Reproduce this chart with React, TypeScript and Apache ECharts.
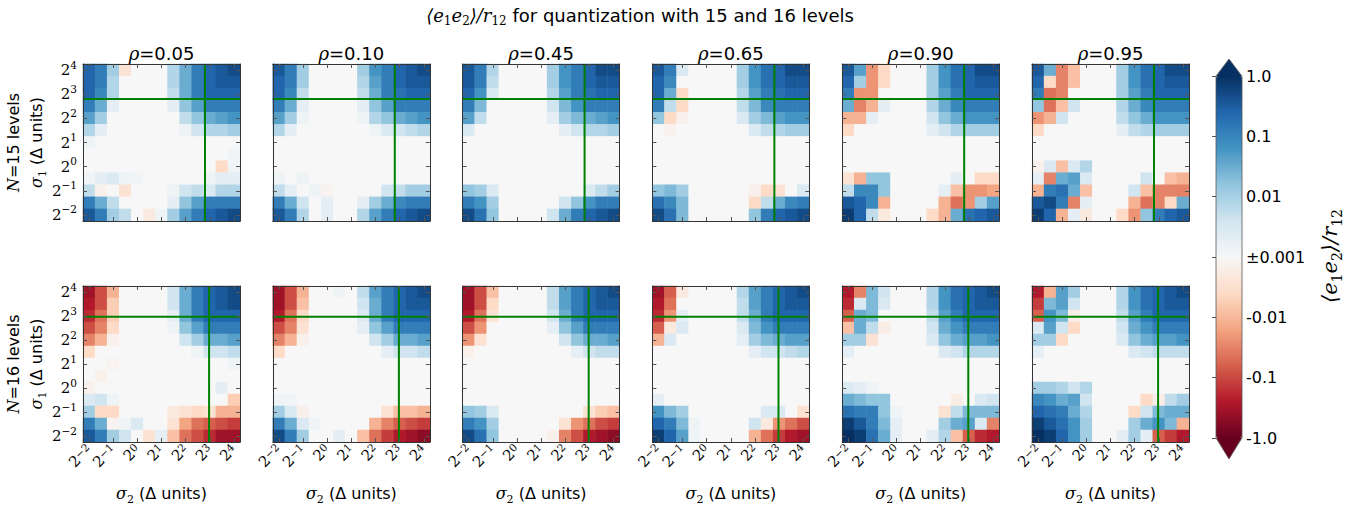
import { useEffect, useRef } from 'react';
import * as echarts from 'echarts';

// log2(sigma) categories, from 2^-2 to 2^4 in half steps
const EXPONENTS = ['-2', '-1.5', '-1', '-0.5', '0', '0.5', '1', '1.5', '2', '2.5', '3', '3.5', '4'];
const RHO_LABELS = ['0.05', '0.10', '0.45', '0.65', '0.90', '0.95'];
const LEVEL_COUNTS = [15, 16];
// position of the green guide lines, in log2(sigma) units (N=15, N=16)
const GREEN_LOG2 = [2.8, 2.97];
const CB_TICK_LABELS = ['-1.0', '-0.1', '-0.01', '\u00b10.001', '0.01', '0.1', '1.0'];
const RDBU = ['#67001f', '#b2182b', '#d6604d', '#f4a582', '#fddbc7', '#f7f7f7', '#d1e5f0', '#92c5de', '#4393c3', '#2166ac', '#053061'];

// Colour level of <e1e2>/r12 on the symmetric-log colour bar:
// +10 = 1.0, +6.67 = 0.1, +3.33 = 0.01, 0 = ±0.001, negative values mirror.
// Rows run from sigma1 = 2^4 (top) down to 2^-2 (bottom); columns sigma2 = 2^-2 .. 2^4.
const N15_RHO005 = [
  [8, 7, 3.5, -1.5, 0, 0, 0, 3, 5, 7, 8, 8.5, 9],
  [8, 7, 3, 0, 0, 0, 0, 3, 5, 7, 8, 8.5, 8.5],
  [8, 6.5, 3, 0, 0, 0, 0, 2.5, 5, 7, 8, 8, 8],
  [7, 5, 1, 0, 0, 0, 0, 1, 4, 5.5, 7, 7, 7],
  [5.5, 3.5, 0, 0, 0, 0, 0, 0, 2.5, 4, 5, 5.5, 6],
  [3, 1, 0, 0, 0, 0, 0, 0, 0.5, 2, 3, 3, 3.5],
  [0.5, 0, 0, 0, 0, 0, 0, 0, 0, 0, 0, 0, 0],
  [0, 0, 0, 0, 0, 0, 0, 0, 0, 0, 0, 0, 0.3],
  [0, 0, 0, 0, 0, 0, 0, 0, 0, 0, 0, -2, 0.3],
  [0.3, 1, 1.5, 0.5, 0.3, 0, 0, 0, 0, 0, 0.5, 1, 1],
  [2.5, -0.5, 0, -1.5, 0, 0, 0, 0.5, 2, 2.5, 1.5, 3, 3],
  [7, 5, 2.5, 0, 0, 0, 0, 1, 4, 5.5, 7, 7, 7],
  [8.5, 7, 3.5, 2.5, 0, -1, 0.5, 3.5, 5.5, 7, 8, 8.5, 9],
];
const N15_RHO010 = [
  [8.5, 7, 3.5, 0, 0, 0, 0, 3.5, 6, 7, 8, 8.5, 9],
  [8, 7, 3.5, 0, 0, 0, 0, 3, 5.5, 7, 8, 8.5, 8.5],
  [8, 6.5, 2.5, 0, 0, 0, 0, 2.5, 5, 7, 7.5, 8, 8],
  [7, 5, 1, 0, 0, 0, 0, 1, 4, 5.5, 7, 7, 7],
  [5.5, 3.5, 0.5, 0, 0, 0, 0, 0.5, 3, 4, 5, 5.5, 6],
  [3, 1, 0, 0, 0, 0, 0, 0, 0.5, 1.5, 2, 2.5, 3],
  [0, 0, 0, 0, 0, 0, 0, 0, 0, 0, 0, 0, 0],
  [0, 0, 0, 0, 0, 0, 0, 0, 0, 0, 0, 0, 0],
  [0, 0, 0, 0, 0, 0, 0, 0, 0, 0, 0, 0, 0],
  [0.5, 0, 0.5, 0, 0, 0, 0, 0, 0, 0, 0, 0, 0],
  [2.5, 1, 0, 0.5, -0.3, 0, 0, 0, 0, 2, 2.5, 3.5, 3.5],
  [7, 5, 2, 0, 1, 0, 0, 1, 3.5, 5, 6.5, 7, 7],
  [8.5, 7, 3, 0, 1, 0, 0, 3, 5.5, 7, 8, 8.5, 9],
];
const N15_RHO045 = [
  [8.5, 7, 3, 0, 0, 0, 0, 3.5, 6, 7, 8, 9, 9],
  [8.5, 7, 2.5, 0, 0, 0, 0, 3.5, 6, 7, 8, 8.5, 8.5],
  [8, 6, 1.5, 0, 0, 0, 0, 3, 5.5, 7, 7.5, 8, 8],
  [7, 4.5, 0, 0, 0, 0, 0, 2, 4.5, 6, 7, 7, 7],
  [5.5, 2.5, 0, 0, 0, 0, 0, 1, 3.5, 4.5, 5, 5.5, 6],
  [1.5, 0, 0, 0, 0, 0, 0, 0, 1, 2, 3, 3, 3.5],
  [0, 0, 0, 0, 0, 0, 0, 0, 0, 0, 0, 0, 0],
  [0, 0, 0, 0, 0, 0, 0, 0, 0, 0, 0, 0, 0],
  [0, 0, 0, 0, 0, 0, 0, 0, 0, 0, 0, 0, 0],
  [0, 0, 0, 0, 0, 0, 0, 0, 0, 0, 0, 0, 0],
  [4, 3.5, 1.5, 0, 0, 0, 0, 0, 0, 0, 1.5, 2.5, 3.5],
  [7, 6, 3.5, 0, 0, 0, 0, 0, 2, 4, 6, 7, 7],
  [9, 7.5, 4, 0, 0, 0, 0, 2, 5, 7, 8, 8.5, 9],
];
const N15_RHO065 = [
  [8.5, 7, 1.5, 0, 0, 0, 0, 3.5, 6, 7.5, 8, 9, 9],
  [8, 6.5, 0, 0, 0, 0, 0, 3.5, 6, 7.5, 8, 8.5, 8.5],
  [8, 5, -2, 0, 0, 0, 0, 3, 5.5, 7, 7.5, 8, 8],
  [7, 2.5, -2, 0, 0, 0, 0, 2.5, 4.5, 6.5, 7, 7, 7],
  [4, -2, -0.5, 0, 0, 0, 0, 1.5, 3.5, 4.5, 5.5, 6, 6],
  [0, -0.4, 0, 0, 0, 0, 0, 0, 1.5, 2.5, 3, 3.5, 3.5],
  [0, 0, 0, 0, 0, 0, 0, 0, 0, 0, 0, 0, 0],
  [0, 0, 0, 0, 0, 0, 0, 0, 0, 0, 0, 0, 0],
  [0, 0, 0, 0, 0, 0, 0, 0, 0, 0, 0, 0, 0],
  [0, 0, 0, 0, 0, 0, 0, 0, 0, 0, 0, 0, 0],
  [4, 4.5, 3.5, 0, 0, 0, 0, 0, -0.5, -2, -1.5, 0, 1.5],
  [7.5, 6.5, 4.5, 0, 0, 0, 0, 0, -2, 2.5, 5, 6.5, 7],
  [9, 7.5, 4.5, 0, 0, 0, 0, 0, 4, 7, 8, 8.5, 9],
];
const N15_RHO090 = [
  [8.5, 5.5, -4.5, -2, 0, 0, 0, 3.5, 6, 7.5, 8, 9, 9],
  [8, 3.5, -4.5, -2, 0, 0, 0, 3.5, 6, 7.5, 8, 8.5, 8.5],
  [7, -4.5, -4.5, 0, 0, 0, 0, 3.5, 5.5, 7, 8, 8, 8],
  [5, -5, -3.5, 1, 0, 0, 0, 3, 5, 6.5, 7, 7, 7],
  [-3.5, -3.5, 1, 0, 0, 0, 0, 2, 4, 5, 6, 6, 6],
  [-2, 0, 0, 0, 0, 0, 0, 1, 2, 3, 3.5, 3.5, 3.5],
  [0, 0, 0, 0, 0, 0, 0, 0, 0, 0, 0, 0, 0],
  [0, 0, 0, 0, 0, 0, 0, 0, 0, 0, 0, 0, 0],
  [0, 0, 0, 0, 0, 0, 0, 0, 0, 0, 0, 0, 0],
  [-1.5, -3.5, 4, 4, 0, 0, 0, 0, 0, 1, 0, -2, -2],
  [2.5, 6.5, 6.5, 4, 0, 0, 0, 0, 1, -3, -4.5, -4.5, -4],
  [8.5, 8, 6.5, -3.5, 0, 0, 0, 0, -3.5, -5.5, -4.5, 3.5, 5.5],
  [9.5, 8, 2.5, -1, 0, 0, 0, -2, -3.5, 5, 7.5, 8, 8.5],
];
const N15_RHO095 = [
  [8.5, 5, -5, -3, 0, 0, 0, 3.5, 6, 7.5, 8, 9, 9],
  [8, -2, -5, -3, 0, 0, 0, 3.5, 6, 7.5, 8, 8.5, 8.5],
  [7, -5.5, -5, 0, 0, 0, 0, 3.5, 5.5, 7, 8, 8, 8],
  [4, -5.5, -3, 2, 0, 0, 0, 3, 5, 6.5, 7, 7, 7],
  [-4.5, -3.5, 2, 0, 0, 0, 0, 2.5, 4, 5, 6, 6, 6],
  [-2, 0, 0, 0, 0, 0, 0, 1, 2.5, 3, 3.5, 3.5, 3.5],
  [0, 0, 0, 0, 0, 0, 0, 0, 0, 0, 0, 0, 0],
  [0, 0, 0, 0, 0, 0, 0, 0, 0, 0, 0, 0, 0],
  [-0.5, 1.5, -3, 1.5, 3, 0, 0, 0, 0, 0, 0, 0, 0],
  [1, -5, 5, 5.5, 1.5, 0, 0, 0, 0, 2, 0, -3, -3.5],
  [-3.5, 7, 7.5, 5, -3, 0, 0, 0, 2, -3, -5, -5, -5],
  [8.5, 9, 7, -5, 1, 0, 0, 0, -3.5, -5.5, -5, -2, 5],
  [9.5, 8, -3.5, 1, -1, 0, 0, -2, -4.5, 4, 7, 8, 8.5],
];
const N16_RHO005 = [
  [-8.5, -6.5, -3.5, 0, 0, 0, 0, 2, 5, 7, 8, 8.5, 9],
  [-8, -6.5, -2.5, 0, 0, 0, 0, 2, 5, 7, 8, 8.5, 9],
  [-7.5, -5.5, -2.5, 0, 0, 0, 0, 1, 5, 7, 8, 8, 8],
  [-6.5, -5, -2, 0, 0, 0, 0, 0.5, 4, 5.5, 7, 7, 7],
  [-5, -3.5, -0.5, 0, 0, 0, 0, 0, 2, 3.5, 5, 5, 5.5],
  [-2, 0, 0, 0, 0, 0, 0, 0, 0, 0.5, 2, 2, 2.5],
  [0, 0, -0.3, 0, 0, 0, 0, 0, 0, 0, 0, 0, 0.5],
  [0, -0.5, 0, 0, 0, 0, 0, 0, 0, 0, 0, 0, 0],
  [-0.5, 0, 0, 0, 0, 0, 0, 0, 0, 0, 0, 1, 0],
  [1.5, 2, 0.5, 0, 0, 0, 0, 0, 0, 0, 0, 0, -2.5],
  [3.5, -2, -2, 0, 0, 0, 0, -1, -1.5, -2, -1.5, -3.5, -3.5],
  [7, 5, -0.3, 0.3, 1.5, 0, 0, -1.5, -4, -5.5, -6, -6.5, -7],
  [8.5, 7, 3.5, 2, 0, -1.5, 1, -3, -5.5, -6.5, -7.5, -8.5, -8.5],
];
const N16_RHO010 = [
  [-8.5, -6.5, -3.5, 0, 0, 0.5, 0, 2.5, 5.5, 7, 8, 8.5, 9],
  [-8.5, -6.5, -3, 0, 0, 0, 0, 2, 5, 7, 8, 8.5, 8.5],
  [-8, -5.5, -2, 0, 0, 0, 0, 1.5, 5, 7, 8, 8, 8],
  [-6.5, -5, -1.5, 0, 0, 0, 0, 1, 4, 5.5, 7, 7, 7],
  [-5, -3.5, -0.5, 0, 0, 0, 0, 0, 2, 3.5, 5, 5, 5.5],
  [-2, 0, 0, 0, 0, 0, 0, 0, 0, 1, 2, 2, 2.5],
  [0, 0, 0, 0, 0, 0, 0, 0, 0, 0, 0, 0, 0],
  [0, 0, 0, 0, 0, 0, 0, 0, 0, 0, 0, 0, 0],
  [0, 0, 0, 0, 0, 0, 0, 0, 0, 0, 0, 0, 0],
  [0.5, 0.3, 0, 0, 0, 0, 0, 0, 0, 0, 0, 0, 0],
  [3.5, 1.5, -0.5, 0, 0, 0, 0, 0, 0, -1.5, -3, -3, -3.5],
  [7, 5, 1.5, 0.3, 0, 0, 0, 0, -3.5, -5, -6, -6.5, -7],
  [9, 7, 3.5, 0, 0, 1, 0, -3, -5.5, -7, -8, -8.5, -9],
];
const N16_RHO045 = [
  [-8.5, -6.5, -3, 0, 0, 0, 0, 2.5, 5.5, 7, 8, 8.5, 9],
  [-8.5, -6.5, -2, 0, 0, 0, 0, 2.5, 5.5, 7, 8, 8.5, 8.5],
  [-8, -5.5, -1.5, 0, 0, 0, 0, 2, 5, 7, 8, 8, 8],
  [-6.5, -4.5, 0, 0, 0, 0, 0, 1, 4, 5.5, 7, 7, 7],
  [-4.5, -1.5, 0, 0, 0, 0, 0, 0, 2, 4, 5, 5, 5.5],
  [-0.5, 0, 0, 0, 0, 0, 0, 0, 0, 1, 2, 2.5, 2.5],
  [0, 0, 0, 0, 0, 0, 0, 0, 0, 0, 0, 0, 0],
  [0, 0, 0, 0, 0, 0, 0, 0, 0, 0, 0, 0, 0],
  [0, 0, 0, 0, 0, 0, 0, 0, 0, 0, 0, 0, 0],
  [0, 0, 0, 0, 0, 0, 0, 0, 0, 0, 0, 0, 0],
  [4, 3.5, 1.5, 0, 0, 0, 0, 0, 0, 0, -1.5, -2.5, -3],
  [7, 6, 3.5, 0, 0, 0, 0, 0, -1.5, -4.5, -5.5, -6.5, -7],
  [9, 7.5, 4, 0, 0, 0, 0, -0.5, -5, -6.5, -8, -8.5, -9],
];
const N16_RHO065 = [
  [-8.5, -6, -1, 0, 0, 0, 0, 3, 5.5, 7, 8, 8.5, 9],
  [-8, -5.5, 0, 0, 0, 0, 0, 2.5, 5.5, 7, 8, 8.5, 8.5],
  [-7.5, -4.5, 1, 0, 0, 0, 0, 2.5, 5, 7, 8, 8, 8],
  [-6, -1, 1.5, 0, 0, 0, 0, 1.5, 4.5, 6, 7, 7, 7],
  [-3.5, 1.5, 0, 0, 0, 0, 0, 1, 3.5, 4.5, 5, 5.5, 5.5],
  [0, 0, 0, 0, 0, 0, 0, 0, 1, 2, 2, 2.5, 3],
  [0, 0, 0, 0, 0, 0, 0, 0, 0, 0, 0, 0, 0],
  [0, 0, 0, 0, 0, 0, 0, 0, 0, 0, 0, 0, 0],
  [0, 0, 0, 0, 0, 0, 0, 0, 0, 0, 0, 0, 0],
  [1, 0, 0, 0, 0, 0, 0, 0, 0, 0, 0, 0, 0],
  [6, 4.5, 3.5, 0, 0, 0, 0, 0, 0, 1.5, 1.5, 0, -1.5],
  [8, 7, 4.5, 0.5, 0, 0, 0, 0, 2, -1, -4.5, -5.5, -6.5],
  [9.5, 8, 5.5, 0.5, 0, 0, 0, 0, -3.5, -5.5, -7, -8, -8.5],
];
const N16_RHO090 = [
  [-8, -5, 4.5, 2, 0, 0, 0, 3, 6, 7.5, 8, 8.5, 9],
  [-7.5, 1.5, 4.5, 1.5, 0, 0, 0, 3, 6, 7.5, 8, 8.5, 8.5],
  [-6, 5, 4.5, 0, 0, 0, 0, 2.5, 5.5, 7, 8, 8, 8],
  [-3, 5, 2.5, -0.7, 0, 0, 0, 2, 5, 6, 7, 7, 7],
  [3.5, 3.5, -1.5, 0, 0, 0, 0, 1.5, 4, 5, 5.5, 5.5, 6],
  [1, 0, 0, 0, 0, 0, 0, 0, 1.5, 2, 3, 3, 3],
  [0, 0, 0, 0, 0, 0, 0, 0, 0, 0, 0, 0, 0],
  [0, 0, 0, 0, 0, 0, 0, 0, 0, 0, 0, 0, 0],
  [1.5, 1, 0.5, 0, 0, 0, 0, 0, 0, 0, 0, 0, 0],
  [5, 4.5, 4, 4, 0, 0, 0, 0, 0, -0.7, 0, 1.5, 2],
  [7.5, 7, 7, 4, 0.5, 0, 0, 0, -1.5, 2.5, 4.5, 4.5, 4.5],
  [9.5, 8.5, 7, 4.5, 1, 0, 0, 0, 3.5, 5, 5.5, 1.5, -5],
  [10, 9.5, 7.5, 5, 1, 0, 0, 1, 3, -3, -6, -7.5, -8],
];
const N16_RHO095 = [
  [-8, -3.5, 5.5, 3.5, 0, 0, 0, 3, 6, 7.5, 8, 8.5, 9],
  [-7, 4.5, 5.5, 2, 0, 0, 0, 3, 6, 7.5, 8, 8.5, 8.5],
  [-6, 6, 4.5, -0.7, 0, 0, 0, 2.5, 5.5, 7, 8, 8, 8],
  [1.5, 5.5, 2, -2, 0, 0, 0, 2, 5, 6, 7, 7, 7],
  [3.5, 3.5, -2, 0, 0, 0, 0, 1.5, 4, 5, 5.5, 5.5, 6],
  [1, 0, 0, 0, 0, 0, 0, 0, 1.5, 2, 2.5, 2.5, 2.5],
  [0, 0, 0, 0, 0, 0, 0, 0, 0, 0, 0, 0, 0],
  [0, 0, 0, 0, 0, 0, 0, 0, 0, 0, 0, 0, 0],
  [3.5, 3.5, 3, 2, 3, 0, 0, 0, 0, 0, 0, 0, 0],
  [6.5, 6, 5, 5.5, 2, 0, 0, 0, 0, -2, -0.7, 2.5, 3.5],
  [8, 7.5, 7, 5, 3, 0, 0, 0, -2, 2, 4.5, 5, 5],
  [9.5, 8.5, 7.5, 6, 3.5, 0, 0, 0, 3.5, 5, 6, 4.5, -3.5],
  [10, 9.5, 8, 6, 3.5, 0, 0, 1, 3.5, 1, -6, -7, -8],
];

const PANELS = [
  [N15_RHO005, N15_RHO010, N15_RHO045, N15_RHO065, N15_RHO090, N15_RHO095],
  [N16_RHO005, N16_RHO010, N16_RHO045, N16_RHO065, N16_RHO090, N16_RHO095],
];

const SERIF = 'DejaVu Serif';
const SANS = 'DejaVu Sans';

// 2^e tick label with a raised exponent (rich text)
const pow2 = (e: string) => `{b|2}{s|${e.replace('-', '\u2212')}}`;
const Y_TICK_RICH = {
  b: { fontFamily: SERIF, fontSize: 15, lineHeight: 22, color: '#000' },
  s: { fontFamily: SERIF, fontSize: 10.5, lineHeight: 11, verticalAlign: 'top', color: '#000' },
};
const X_TICK_RICH = {
  b: { fontFamily: SERIF, fontSize: 15, lineHeight: 16, color: '#000' },
  s: { fontFamily: SERIF, fontSize: 10.5, lineHeight: 8, verticalAlign: 'top', color: '#000' },
};

// math expression <e1e2>/r12 as rich text with lowered subscripts
const mathE1E2 = (m: string, sub: string) => `{${m}|\u27e8e}{${sub}|1}{${m}|e}{${sub}|2}{${m}|\u27e9/r}{${sub}|12}`;

function buildOption() {
  const LEFT0 = 83;
  const STEP = 189.8;
  const SIZE = 157;
  const TOPS = [64, 286];
  const grid: any[] = [];
  const xAxis: any[] = [];
  const yAxis: any[] = [];
  const heat: any[] = [];
  const lines: any[] = [];
  const tickIv = (i: number) => i % 2 === 0;
  const nameRich = {
    i: { fontFamily: SERIF, fontStyle: 'italic', fontSize: 16, color: '#000', lineHeight: 23 },
    sb: { fontFamily: SERIF, fontSize: 11, color: '#000', lineHeight: 10, verticalAlign: 'bottom' },
    n: { fontFamily: SANS, fontSize: 16, color: '#000', lineHeight: 23 },
  };
  const catBase = (g: number, position: string) => ({
    type: 'category',
    gridIndex: g,
    data: EXPONENTS,
    position,
    z: 10,
    axisLine: { show: true, onZero: false, lineStyle: { color: '#333', width: 1 } },
    axisTick: { show: true, inside: true, length: 4, interval: tickIv, alignWithLabel: true, lineStyle: { color: '#555' } },
    splitLine: { show: false },
  });

  for (let r = 0; r < 2; r++) {
    for (let c = 0; c < 6; c++) {
      const g = r * 6 + c;
      grid.push({ left: LEFT0 + c * STEP, top: TOPS[r], width: SIZE, height: SIZE });
      xAxis.push({
        ...catBase(g, 'bottom'),
        axisLabel: {
          show: r === 1,
          interval: tickIv,
          rotate: 45,
          margin: 5,
          showMinLabel: true,
          showMaxLabel: true,
          hideOverlap: false,
          formatter: (v: string) => pow2(v),
          rich: X_TICK_RICH,
        },
        name: r === 1 ? '{i|\u03c3}{sb|2}{n| (\u0394 units)}' : '',
        nameLocation: 'middle',
        nameGap: 40,
        nameTextStyle: { rich: nameRich },
      });
      xAxis.push({
        ...catBase(g, 'top'),
        axisLabel: { show: false },
        name: r === 0 ? `{i|\u03c1}{n|=${RHO_LABELS[c]}}` : '',
        nameLocation: 'middle',
        nameGap: 2,
        nameTextStyle: {
          rich: {
            i: { fontFamily: SERIF, fontStyle: 'italic', fontSize: 18, color: '#000', lineHeight: 18 },
            n: { fontFamily: SANS, fontSize: 18, color: '#000', lineHeight: 18 },
          },
        },
      });
      xAxis.push({ type: 'value', gridIndex: g, min: -2.25, max: 4.25, show: false });
      yAxis.push({
        ...catBase(g, 'left'),
        axisLabel: {
          show: c === 0,
          interval: tickIv,
          margin: 6,
          showMinLabel: true,
          showMaxLabel: true,
          formatter: (v: string) => pow2(v),
          rich: Y_TICK_RICH,
        },
        name: c === 0 ? `{i|N}{n|=${LEVEL_COUNTS[r]} levels}\n{i|\u03c3}{sb|1}{n| (\u0394 units)}` : '',
        nameLocation: 'middle',
        nameRotate: 90,
        nameGap: 33,
        nameTextStyle: { rich: nameRich },
      });
      yAxis.push({ ...catBase(g, 'right'), axisLabel: { show: false } });
      yAxis.push({ type: 'value', gridIndex: g, min: -2.25, max: 4.25, show: false });

      const panel = PANELS[r][c];
      const data: number[][] = [];
      panel.forEach((row, ri) => {
        row.forEach((lvl, ci) => {
          data.push([ci, EXPONENTS.length - 1 - ri, (lvl * 3) / 10]);
        });
      });
      heat.push({
        type: 'heatmap',
        xAxisIndex: 3 * g,
        yAxisIndex: 3 * g,
        data,
        itemStyle: { borderWidth: 0 },
        emphasis: { disabled: true },
        silent: true,
      });
      const gx = GREEN_LOG2[r];
      const lineCommon = {
        type: 'line',
        xAxisIndex: 3 * g + 2,
        yAxisIndex: 3 * g + 2,
        symbol: 'none',
        silent: true,
        z: 5,
        lineStyle: { color: '#008000', width: 2 },
      };
      lines.push({ ...lineCommon, data: [[gx, -2.25], [gx, 4.25]] });
      lines.push({ ...lineCommon, data: [[-2.25, gx], [4.25, gx]] });
    }
  }

  // colour bar axis
  const CB = { left: 1216, top: 76, width: 26, height: 362 };
  grid.push({ ...CB });
  xAxis.push({ type: 'value', gridIndex: 12, show: false, min: 0, max: 1 });
  yAxis.push({
    type: 'value',
    gridIndex: 12,
    min: -3,
    max: 3,
    interval: 1,
    position: 'right',
    z: 10,
    axisLine: { show: false },
    axisTick: { show: true, inside: true, length: 4, lineStyle: { color: '#555' } },
    splitLine: { show: false },
    axisLabel: {
      margin: 4,
      formatter: (v: number) => CB_TICK_LABELS[Math.round(v) + 3],
      fontFamily: SANS,
      fontSize: 16,
      color: '#000',
    },
  });

  const cbL = CB.left;
  const cbR = CB.left + CB.width;
  const cbM = CB.left + CB.width / 2;
  const cbT = CB.top;
  const cbB = CB.top + CB.height;

  return {
    animation: false,
    backgroundColor: '#ffffff',
    grid,
    xAxis,
    yAxis,
    visualMap: {
      type: 'continuous',
      min: -3,
      max: 3,
      dimension: 2,
      seriesIndex: heat.map((_, i) => i),
      inRange: { color: RDBU },
      orient: 'vertical',
      left: CB.left,
      top: CB.top,
      itemWidth: CB.width,
      itemHeight: CB.height,
      padding: 0,
      calculable: false,
      hoverLink: false,
      text: null,
    },
    series: [...heat, ...lines],
    graphic: [
      {
        type: 'polygon',
        z: 20,
        shape: { points: [[cbL, cbT + 0.5], [cbR, cbT + 0.5], [cbM, cbT - 17]] },
        style: { fill: RDBU[RDBU.length - 1] },
      },
      {
        type: 'polygon',
        z: 20,
        shape: { points: [[cbL, cbB - 0.5], [cbR, cbB - 0.5], [cbM, cbB + 21]] },
        style: { fill: RDBU[0] },
      },
      {
        type: 'polygon',
        z: 21,
        shape: {
          points: [[cbL, cbT], [cbM, cbT - 17], [cbR, cbT], [cbR, cbB], [cbM, cbB + 21], [cbL, cbB]],
        },
        style: { fill: 'none', stroke: '#555', lineWidth: 0.8 },
      },
      {
        type: 'text',
        x: 640,
        y: 15,
        z: 20,
        style: {
          text: mathE1E2('m', 'ms') + '{n| for quantization with 15 and 16 levels}',
          align: 'center',
          verticalAlign: 'middle',
          textAlign: 'center',
          textVerticalAlign: 'middle',
          rich: {
            m: { fontFamily: SERIF, fontStyle: 'italic', fontSize: 18, lineHeight: 24, fill: '#000' },
            ms: { fontFamily: SERIF, fontSize: 12, lineHeight: 12, verticalAlign: 'bottom', fill: '#000' },
            n: { fontFamily: SANS, fontSize: 18, lineHeight: 24, fill: '#000' },
          },
        },
      },
      {
        type: 'text',
        x: 1330,
        y: 256,
        rotation: Math.PI / 2,
        z: 20,
        style: {
          text: mathE1E2('m', 'ms'),
          align: 'center',
          verticalAlign: 'middle',
          textAlign: 'center',
          textVerticalAlign: 'middle',
          rich: {
            m: { fontFamily: SERIF, fontStyle: 'italic', fontSize: 21, lineHeight: 28, fill: '#000' },
            ms: { fontFamily: SERIF, fontSize: 14, lineHeight: 14, verticalAlign: 'bottom', fill: '#000' },
          },
        },
      },
    ],
  };
}

export default function App() {
  const ref = useRef<HTMLDivElement>(null);
  useEffect(() => {
    if (!ref.current) return;
    const chart = echarts.init(ref.current, undefined, { renderer: 'svg' });
    chart.setOption(buildOption() as any);
    return () => chart.dispose();
  }, []);
  return <div ref={ref} style={{ position: 'absolute', left: 0, top: 0, width: 1349, height: 506 }} />;
}
